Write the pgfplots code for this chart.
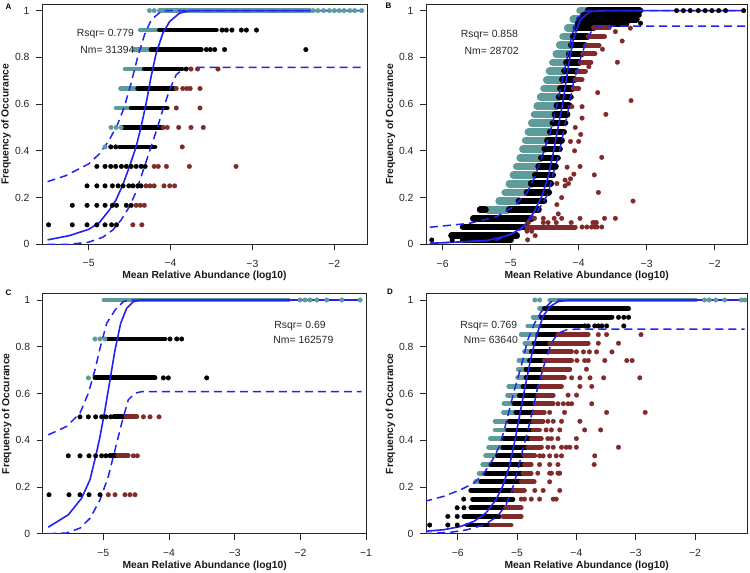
\documentclass[border=0pt]{standalone}
\usepackage{fontspec}
\setmainfont{Liberation Sans}
\usepackage{pgfplots}
\pgfplotsset{compat=1.18}
\definecolor{tealc}{HTML}{5E9C9B}
\definecolor{redc}{HTML}{812A2A}
\definecolor{bluec}{HTML}{2222F5}
\tikzset{note/.style={font=\fontsize{10.4}{12}\selectfont, text=black!85}}
\pgfplotsset{
 panel/.style={
   scale only axis, anchor=south west, height=240pt,
   ymin=0, ymax=1.027,
   ytick={0,0.2,0.4,0.6,0.8,1}, yticklabels={0,0.2,0.4,0.6,0.8,1},
   tick align=outside, xtick pos=bottom, ytick pos=left,
   major tick length=6pt,
   every tick/.style={black!85, line width=0.8pt},
   axis line style={black!85, line width=0.8pt},
   tick label style={font=\fontsize{10.4}{12}\selectfont, text=black!85},
   xticklabel style={yshift=-6pt},
   yticklabel style={xshift=-3pt},
   label style={font=\bfseries\fontsize{10.3}{12}\selectfont, text=black!90},
   xlabel={Mean Relative Abundance (log10)},
   ylabel={Frequency of Occurance},
   xlabel style={at={(axis description cs:0.5,-0.133)}, anchor=center},
   ylabel style={at={(axis description cs:-0.111,0.5)}, anchor=center},
 },
 seg/.style={no markers, line cap=round, line width=4.8pt, unbounded coords=jump, forget plot},
 pts/.style={only marks, mark=*, mark size=2.3pt, mark options={line width=0.3pt}, forget plot},
 fit/.style={no markers, line width=1.6pt, bluec, forget plot},
 ci/.style={no markers, line width=1.5pt, bluec, dash pattern=on 8pt off 5pt, forget plot},
}
\begin{document}
\begin{tikzpicture}
\path[use as bounding box] (0,0) rectangle (750pt,573pt);
\node[font=\bfseries\fontsize{8}{9}\selectfont] at (8.5pt,566.5pt) {A};
\node[font=\bfseries\fontsize{8}{9}\selectfont] at (388.5pt,567pt) {B};
\node[font=\bfseries\fontsize{8}{9}\selectfont] at (8.5pt,280pt) {C};
\node[font=\bfseries\fontsize{8}{9}\selectfont] at (390pt,281.5pt) {D};

%================ A =================
\begin{axis}[panel, at={(42pt,328.7pt)}, width=325pt,
  xmin=-5.57, xmax=-1.60, xtick={-5,-4,-3,-2}, xticklabels={−5,−4,−3,−2}]
\addplot[seg, tealc] coordinates {
(-4.665,0.5833)(-4.49,0.5833) (0,nan)
(-4.61,0.6667)(-4.41,0.6667) (0,nan)
(-4.555,0.75)(-4.33,0.75) (0,nan)
(-4.45,0.8333)(-4.245,0.8333) (0,nan)
(-4.37,0.9167)(-4.147,0.9167) (0,nan)
(-4.135,1)(-2.30,1)};
\addplot[pts, tealc] coordinates {
(-4.80,0.4167) (-4.727,0.5)(-4.665,0.5)(-4.604,0.5)
(-4.257,1)(-4.20,1)(-2.26,1)(-2.20,1)(-2.13,1)(-2.06,1)(-2.0,1)(-1.94,1)(-1.88,1)(-1.81,1)(-1.75,1)(-1.665,1)};
\addplot[seg, black] coordinates {
(-4.62,0.4167)(-4.19,0.4167) (0,nan)
(-4.58,0.5)(-4.11,0.5) (0,nan)
(-4.48,0.5833)(-4.04,0.5833) (0,nan)
(-4.40,0.6667)(-3.96,0.6667) (0,nan)
(-4.32,0.75)(-3.86,0.75) (0,nan)
(-4.237,0.8333)(-3.624,0.8333) (0,nan)
(-4.135,0.9167)(-3.44,0.9167)};
\addplot[pts, black] coordinates {
(-5.49,0.0833)(-5.20,0.0833)(-5.02,0.0833)(-4.90,0.0833)(-4.80,0.0833)(-4.72,0.0833)(-4.66,0.0833)
(-5.20,0.1667)(-5.02,0.1667)(-4.90,0.1667)(-4.80,0.1667)(-4.71,0.1667)(-4.66,0.1667)(-4.54,0.1667)(-4.48,0.1667)
(-5.02,0.25)(-4.90,0.25)(-4.80,0.25)(-4.71,0.25)(-4.64,0.25)(-4.58,0.25)(-4.51,0.25)(-4.46,0.25)(-4.40,0.25)(-4.36,0.25)
(-4.90,0.3333)(-4.80,0.3333)(-4.73,0.3333)(-4.67,0.3333)(-4.60,0.3333)(-4.54,0.3333)(-4.48,0.3333)(-4.42,0.3333)(-4.36,0.3333)(-4.31,0.3333)
(-4.73,0.4167)(-4.67,0.4167)
(-3.81,0.75)
(-3.563,0.8333)(-3.514,0.8333)(-3.46,0.8333)(-3.34,0.8333)(-2.347,0.8333)
(-3.37,0.9167)(-3.318,0.9167)(-3.25,0.9167)(-3.135,0.9167)(-3.073,0.9167)(-2.95,0.9167)};
\addplot[pts, redc] coordinates {
(-4.46,0.0833)(-4.35,0.0833)
(-4.42,0.1667)(-4.37,0.1667)(-4.32,0.1667)
(-4.30,0.25)(-4.25,0.25)(-4.20,0.25)(-4.08,0.25)(-4.01,0.25)(-3.95,0.25)
(-4.20,0.3333)(-4.15,0.3333)(-4.05,0.3333)(-3.77,0.3333)(-3.20,0.3333)
(-3.857,0.4167)
(-4.09,0.5)(-4.04,0.5)(-3.90,0.5)(-3.75,0.5)(-3.60,0.5)
(-3.93,0.5833)(-3.64,0.5833)
(-3.93,0.6667)(-3.85,0.6667)(-3.80,0.6667)(-3.76,0.6667)(-3.64,0.6667)
(-3.75,0.75)(-3.67,0.75)(-3.42,0.75)};
\addplot[fit] coordinates {
(-5.502,0.019)(-5.237,0.037)(-5.0,0.064)(-4.869,0.093)(-4.747,0.147)(-4.665,0.19)(-4.584,0.254)(-4.502,0.332)(-4.42,0.418)(-4.359,0.504)(-4.298,0.603)(-4.237,0.718)(-4.176,0.817)(-4.094,0.903)(-4.012,0.953)(-3.89,0.989)(-3.767,1.0)(-1.665,1.0)};
\addplot[ci] coordinates {
(-5.502,0.268)(-5.278,0.294)(-5.0,0.344)(-4.869,0.387)(-4.747,0.447)(-4.645,0.515)(-4.563,0.589)(-4.482,0.689)(-4.40,0.803)(-4.318,0.896)(-4.237,0.96)(-4.135,0.991)(-4.053,1.0)(-1.665,1.0)};
\addplot[ci] coordinates {
(-5.502,0)(-5.237,0)(-5.0,0.009)(-4.829,0.03)(-4.706,0.061)(-4.604,0.104)(-4.502,0.161)(-4.42,0.225)(-4.339,0.311)(-4.257,0.397)(-4.176,0.482)(-4.094,0.575)(-4.012,0.66)(-3.931,0.725)(-3.849,0.75)(-3.727,0.757)(-1.665,0.757)};
\node[note] at (axis cs:-4.796,0.899) {Rsqr= 0.779};
\node[note] at (axis cs:-4.77,0.832) {Nm= 31394};
\end{axis}

%================ B =================
\begin{axis}[panel, at={(426pt,328.7pt)}, width=321.3pt,
  xmin=-6.245, xmax=-1.52, xtick={-6,-5,-4,-3,-2}, xticklabels={−6,−5,−4,−3,−2}]
\addplot[seg, tealc, line width=7.6pt] coordinates {
(-5.33,0.148)(-5.04,0.148) (0,nan)
(-5.17,0.185)(-4.88,0.185) (0,nan)
(-5.08,0.222)(-4.76,0.222) (0,nan)
(-5.02,0.259)(-4.70,0.259) (0,nan)
(-4.96,0.296)(-4.64,0.296) (0,nan)
(-4.91,0.333)(-4.59,0.333) (0,nan)
(-4.86,0.370)(-4.55,0.370) (0,nan)
(-4.82,0.407)(-4.50,0.407) (0,nan)
(-4.78,0.444)(-4.46,0.444) (0,nan)
(-4.74,0.481)(-4.42,0.481) (0,nan)
(-4.69,0.519)(-4.38,0.519) (0,nan)
(-4.65,0.556)(-4.35,0.556) (0,nan)
(-4.61,0.593)(-4.32,0.593) (0,nan)
(-4.56,0.630)(-4.29,0.630) (0,nan)
(-4.51,0.667)(-4.27,0.667) (0,nan)
(-4.47,0.704)(-4.24,0.704) (0,nan)
(-4.43,0.741)(-4.21,0.741) (0,nan)
(-4.38,0.778)(-4.18,0.778) (0,nan)
(-4.33,0.815)(-4.14,0.815) (0,nan)
(-4.28,0.852)(-4.11,0.852) (0,nan)
(-4.23,0.889)(-4.08,0.889) (0,nan)
(-4.16,0.926)(-4.04,0.926) (0,nan)
(-4.08,0.963)(-3.99,0.963) (0,nan)
(-3.98,1)(-3.86,1)};
\addplot[seg, black, line width=6.6pt] coordinates {
(-5.70,0.0185)(-5.0,0.0185) (0,nan)
(-5.87,0.037)(-4.91,0.037) (0,nan)
(-5.70,0.074)(-4.77,0.074) (0,nan)
(-5.55,0.111)(-4.69,0.111) (0,nan)
(-5.45,0.148)(-5.37,0.148) (0,nan)
(-5.02,0.148)(-4.59,0.148) (0,nan)
(-4.88,0.185)(-4.51,0.185) (0,nan)
(-4.76,0.222)(-4.44,0.222) (0,nan)
(-4.70,0.259)(-4.41,0.259) (0,nan)
(-4.64,0.296)(-4.38,0.296) (0,nan)
(-4.59,0.333)(-4.34,0.333) (0,nan)
(-4.55,0.370)(-4.31,0.370) (0,nan)
(-4.50,0.407)(-4.28,0.407) (0,nan)
(-4.46,0.444)(-4.25,0.444) (0,nan)
(-4.42,0.481)(-4.22,0.481) (0,nan)
(-4.38,0.519)(-4.20,0.519) (0,nan)
(-4.35,0.556)(-4.17,0.556) (0,nan)
(-4.32,0.593)(-4.14,0.593) (0,nan)
(-4.29,0.630)(-4.12,0.630) (0,nan)
(-4.27,0.667)(-4.09,0.667) (0,nan)
(-4.24,0.704)(-4.06,0.704) (0,nan)
(-4.21,0.741)(-4.03,0.741) (0,nan)
(-4.18,0.778)(-3.99,0.778) (0,nan)
(-4.14,0.815)(-3.95,0.815) (0,nan)
(-4.11,0.852)(-3.91,0.852) (0,nan)
(-4.08,0.889)(-3.87,0.889) (0,nan)
(-4.04,0.926)(-3.78,0.926) (0,nan)
(-4.01,0.944)(-3.30,0.944) (0,nan)
(-3.99,0.963)(-3.15,0.963) (0,nan)
(-3.93,0.981)(-3.12,0.981) (0,nan)
(-3.86,1)(-3.10,1)};
\addplot[pts, black] coordinates {
(-6.16,0.0185)(-5.86,0.0185)(-3.09,0.946)
(-2.56,1)(-2.46,1)(-2.36,1)(-2.24,1)(-2.14,1)(-2.04,1)(-1.94,1)(-1.84,1)(-1.573,1)};
\addplot[seg, redc, line width=5pt] coordinates {
(-4.76,0.074)(-4.05,0.074) (0,nan)
(-3.78,0.926)(-3.55,0.926) (0,nan)
(-3.86,0.889)(-3.62,0.889) (0,nan)
(-3.90,0.852)(-3.70,0.852) (0,nan)
(-3.94,0.815)(-3.76,0.815) (0,nan)
(-3.98,0.778)(-3.82,0.778) (0,nan)
(-4.02,0.741)(-3.90,0.741) (0,nan)
(-4.05,0.704)(-3.95,0.704) (0,nan)
(-4.08,0.667)(-4.0,0.667)};
\addplot[pts, redc] coordinates {
(-3.46,0.91)(-3.24,0.925)(-3.36,0.87)(-3.65,0.835)(-3.43,0.779)(-3.85,0.76)(-3.72,0.649)(-3.23,0.615)
(-4.10,0.589)(-3.95,0.589)(-3.60,0.556)(-3.95,0.54)(-4.05,0.50)(-3.97,0.47)(-4.12,0.44)(-4.0,0.44)
(-3.66,0.372)(-4.06,0.40)(-3.98,0.333)(-4.07,0.30)(-3.77,0.297)(-4.12,0.28)(-4.15,0.26)(-3.71,0.222)
(-4.2,0.25)(-4.25,0.20)(-3.2,0.185)(-4.3,0.13)(-4.32,0.17)(-4.36,0.111)(-4.32,0.26)(-4.2,0.275)(-4.17,0.33)
(-3.95,0.074)(-3.88,0.074)(-3.81,0.074)(-3.76,0.074)(-3.73,0.074)(-3.66,0.074)
(-4.74,0.093)(-4.52,0.093)(-4.45,0.093)(-4.33,0.093)(-4.11,0.093)(-3.79,0.093)(-3.76,0.093)(-3.74,0.093)
(-4.65,0.111)(-4.52,0.111)(-4.25,0.111)(-3.98,0.111)(-3.62,0.111)(-3.46,0.111)
(-4.76,0.056)(-4.69,0.056)(-4.64,0.037)(-4.75,0.019)};
\addplot[fit] coordinates {
(-6.187,0.004)(-5.353,0.016)(-5.01,0.04)(-4.815,0.075)(-4.668,0.133)(-4.544,0.204)(-4.447,0.29)(-4.374,0.39)(-4.3,0.504)(-4.226,0.618)(-4.153,0.76)(-4.079,0.875)(-3.98,0.96)(-3.834,0.996)(-3.588,1.0)(-1.573,1.0)};
\addplot[ci] coordinates {
(-6.187,0.073)(-5.598,0.09)(-5.206,0.118)(-4.96,0.161)(-4.765,0.218)(-4.643,0.29)(-4.52,0.39)(-4.422,0.475)(-4.324,0.589)(-4.25,0.689)(-4.176,0.789)(-4.103,0.889)(-4.03,0.96)(-3.932,0.996)(-3.785,1.0)(-1.573,1.0)};
\addplot[ci] coordinates {
(-6.187,0.004)(-5.206,0.018)(-4.863,0.061)(-4.618,0.133)(-4.447,0.218)(-4.374,0.304)(-4.3,0.375)(-4.226,0.475)(-4.153,0.575)(-4.079,0.689)(-3.98,0.789)(-3.882,0.875)(-3.785,0.925)(-3.687,0.934)(-1.52,0.934)};
\node[note] at (axis cs:-5.313,0.896) {Rsqr= 0.858};
\node[note] at (axis cs:-5.278,0.829) {Nm= 28702};
\end{axis}

%================ C =================
\begin{axis}[panel, at={(42.7pt,39.3pt)}, width=324pt,
  xmin=-5.923, xmax=-0.99, xtick={-5,-4,-3,-2,-1}, xticklabels={−5,−4,−3,−2,−1}]
\addplot[seg, tealc] coordinates {(-4.99,1)(-2.183,1)};
\addplot[pts, tealc] coordinates {
(-5.228,0.6667)(-5.127,0.8333)(-5.05,0.8333)(-4.975,0.8333)
(-2.005,1)(-1.929,1)(-1.853,1)(-1.751,1)(-1.599,1)(-1.37,1)(-1.09,1)};
\addplot[seg, black] coordinates {
(-4.90,0.3333)(-4.81,0.3333) (0,nan)
(-4.84,0.5)(-4.67,0.5) (0,nan)
(-5.127,0.6667)(-4.213,0.6667) (0,nan)
(-4.94,0.8333)(-4.06,0.8333)};
\addplot[pts, black] coordinates {
(-5.827,0.1667)(-5.523,0.1667)(-5.355,0.1667)(-5.218,0.1667)(-5.051,0.1667)
(-5.533,0.3333)(-5.355,0.3333)(-5.218,0.3333)(-5.117,0.3333)(-5.025,0.3333)(-4.96,0.3333)
(-5.355,0.5)(-5.228,0.5)(-5.117,0.5)(-5.025,0.5)(-4.959,0.5)(-4.888,0.5)
(-4.086,0.6667)(-4.01,0.6667)(-3.426,0.6667)
(-3.985,0.8333)(-3.883,0.8333)(-3.807,0.8333)};
\addplot[seg, redc] coordinates {
(-4.78,0.3333)(-4.62,0.3333) (0,nan)
(-4.655,0.5)(-4.49,0.5)};
\addplot[pts, redc] coordinates {
(-4.924,0.1667)(-4.822,0.1667)(-4.67,0.1667)(-4.594,0.1667)(-4.518,0.1667)
(-4.543,0.3333)(-4.482,0.3333)
(-4.39,0.5)(-4.289,0.5)(-4.152,0.5)};
\addplot[fit] coordinates {
(-5.838,0.028)(-5.533,0.081)(-5.33,0.152)(-5.203,0.231)(-5.117,0.33)(-5.05,0.416)(-4.975,0.53)(-4.898,0.658)(-4.822,0.786)(-4.736,0.9)(-4.645,0.964)(-4.543,0.993)(-4.44,1.0)(-1.066,1.0)};
\addplot[ci] coordinates {
(-5.838,0.423)(-5.558,0.459)(-5.355,0.516)(-5.228,0.601)(-5.127,0.701)(-5.051,0.793)(-4.949,0.9)(-4.822,0.957)(-4.695,0.993)(-4.62,1.0)(-1.066,1.0)};
\addplot[ci] coordinates {
(-5.838,0)(-5.558,0.003)(-5.355,0.024)(-5.2,0.067)(-5.05,0.145)(-4.924,0.245)(-4.822,0.359)(-4.72,0.473)(-4.62,0.573)(-4.518,0.601)(-4.416,0.608)(-1.066,0.608)};
\node[note] at (axis cs:-2.005,0.89) {Rsqr= 0.69};
\node[note] at (axis cs:-1.954,0.829) {Nm= 162579};
\end{axis}

%================ D =================
\begin{axis}[panel, at={(426pt,39.3pt)}, width=321.3pt,
  xmin=-6.535, xmax=-1.118, xtick={-6,-5,-4,-3,-2}, xticklabels={−6,−5,−4,−3,−2}]
\addplot[seg, tealc] coordinates {
(-4.45,1)(-1.99,1) (0,nan)
(-4.62,0.963)(-4.54,0.963) (0,nan)
(-4.73,0.926)(-4.59,0.926) (0,nan)
(-4.82,0.889)(-4.59,0.889) (0,nan)
(-4.93,0.852)(-4.65,0.852) (0,nan)
(-4.87,0.815)(-4.71,0.815) (0,nan)
(-4.875,0.778)(-4.76,0.778) (0,nan)
(-4.97,0.741)(-4.79,0.741) (0,nan)
(-4.98,0.704)(-4.85,0.704) (0,nan)
(-4.99,0.667)(-4.85,0.667) (0,nan)
(-5.14,0.630)(-4.90,0.630) (0,nan)
(-5.16,0.593)(-4.96,0.593) (0,nan)
(-5.22,0.556)(-5.05,0.556) (0,nan)
(-5.23,0.519)(-5.02,0.519) (0,nan)
(-5.37,0.481)(-5.13,0.481) (0,nan)
(-5.37,0.444)(-5.16,0.444) (0,nan)
(-5.45,0.407)(-5.22,0.407) (0,nan)
(-5.48,0.370)(-5.24,0.370) (0,nan)
(-5.53,0.333)(-5.33,0.333) (0,nan)
(-5.58,0.296)(-5.44,0.296) (0,nan)
(-5.64,0.259)(-5.53,0.259) (0,nan)
(-5.70,0.222)(-5.61,0.222)};
\addplot[pts, tealc] coordinates {
(-4.70,1)(-4.62,1)(-1.84,1)(-1.76,1)(-1.65,1)(-1.50,1)(-1.22,1)(-1.16,1)};
\addplot[seg, black] coordinates {
(-4.54,0.963)(-3.12,0.963) (0,nan)
(-4.59,0.926)(-3.43,0.926) (0,nan)
(-4.59,0.889)(-3.91,0.889) (0,nan)
(-4.65,0.852)(-4.31,0.852) (0,nan)
(-4.71,0.815)(-4.45,0.815) (0,nan)
(-4.76,0.778)(-4.45,0.778) (0,nan)
(-4.79,0.741)(-4.54,0.741) (0,nan)
(-4.85,0.704)(-4.56,0.704) (0,nan)
(-4.85,0.667)(-4.56,0.667) (0,nan)
(-4.90,0.630)(-4.62,0.630) (0,nan)
(-4.96,0.593)(-4.65,0.593) (0,nan)
(-5.05,0.556)(-4.70,0.556) (0,nan)
(-5.02,0.519)(-4.70,0.519) (0,nan)
(-5.13,0.481)(-4.73,0.481) (0,nan)
(-5.16,0.444)(-4.76,0.444) (0,nan)
(-5.22,0.407)(-4.79,0.407) (0,nan)
(-5.24,0.370)(-4.82,0.370) (0,nan)
(-5.33,0.333)(-4.875,0.333) (0,nan)
(-5.44,0.296)(-4.875,0.296) (0,nan)
(-5.53,0.259)(-4.90,0.259) (0,nan)
(-5.61,0.222)(-4.93,0.222) (0,nan)
(-5.78,0.185)(-5.045,0.185) (0,nan)
(-5.75,0.148)(-5.07,0.148) (0,nan)
(-5.78,0.111)(-5.22,0.111) (0,nan)
(-5.895,0.074)(-5.30,0.074) (0,nan)
(-5.84,0.037)(-5.47,0.037)};
\addplot[pts, black] coordinates {
(-5.90,0.148)(-6.01,0.111)(-5.895,0.111)(-6.167,0.074)(-6.008,0.074)(-6.473,0.037)(-6.167,0.037)(-6.008,0.037)
(-3.40,0.926)(-3.29,0.926)(-3.20,0.926)(-3.12,0.926)
(-3.86,0.889)(-3.80,0.889)(-3.69,0.889)(-3.63,0.889)(-3.57,0.889)(-3.49,0.889)(-3.20,0.889)};
\addplot[seg, redc] coordinates {
(-4.31,0.852)(-3.80,0.852) (0,nan)
(-4.45,0.815)(-3.80,0.815) (0,nan)
(-4.45,0.778)(-4.08,0.778) (0,nan)
(-4.54,0.741)(-4.08,0.741) (0,nan)
(-4.56,0.704)(-4.11,0.704) (0,nan)
(-4.56,0.667)(-4.20,0.667) (0,nan)
(-4.62,0.630)(-4.25,0.630) (0,nan)
(-4.65,0.593)(-4.39,0.593) (0,nan)
(-4.70,0.556)(-4.39,0.556) (0,nan)
(-4.70,0.519)(-4.54,0.519) (0,nan)
(-4.73,0.481)(-4.56,0.481) (0,nan)
(-4.73,0.444)(-4.62,0.444) (0,nan)
(-4.76,0.407)(-4.59,0.407) (0,nan)
(-4.82,0.370)(-4.62,0.370) (0,nan)
(-4.875,0.333)(-4.70,0.333) (0,nan)
(-4.875,0.296)(-4.76,0.296) (0,nan)
(-4.90,0.259)(-4.76,0.259) (0,nan)
(-4.93,0.222)(-4.71,0.222) (0,nan)
(-5.045,0.185)(-4.875,0.185) (0,nan)
(-5.19,0.111)(-4.93,0.111) (0,nan)
(-5.24,0.074)(-4.93,0.074) (0,nan)
(-5.44,0.037)(-5.10,0.037)};
\addplot[pts, redc] coordinates {
(-3.63,0.852)(-3.49,0.852)(-2.91,0.852)
(-3.63,0.815)(-3.29,0.815)
(-4.0,0.778)(-3.88,0.778)(-3.78,0.778)(-3.66,0.778)(-3.40,0.778)
(-3.99,0.741)(-3.86,0.741)(-3.80,0.741)(-3.52,0.741)(-3.15,0.741)(-3.06,0.741)
(-3.83,0.704)
(-4.08,0.667)(-3.94,0.667)(-3.77,0.667)(-3.54,0.667)(-2.93,0.667)
(-3.94,0.630)(-3.74,0.630)
(-4.14,0.593)(-3.997,0.593)
(-4.31,0.556)(-4.22,0.556)(-4.14,0.556)(-4.08,0.556)(-3.74,0.556)
(-4.45,0.519)(-4.20,0.519)(-3.49,0.519)(-2.84,0.519)
(-4.48,0.481)(-4.39,0.481)(-4.25,0.481)(-3.94,0.481)
(-4.51,0.444)(-4.42,0.444)(-4.28,0.444)(-3.86,0.444)(-3.59,0.444)
(-4.48,0.407)(-4.42,0.407)(-4.31,0.407)(-4.0,0.407)
(-4.59,0.370)(-4.48,0.370)(-4.39,0.370)(-4.25,0.370)(-4.17,0.370)(-4.11,0.370)(-4.0,0.370)(-3.29,0.370)
(-4.62,0.333)(-4.56,0.333)(-4.45,0.333)(-4.34,0.333)(-4.25,0.333)(-3.69,0.333)
(-4.62,0.296)(-4.45,0.296)(-4.31,0.296)(-3.70,0.296)
(-4.65,0.259)(-4.45,0.259)(-4.42,0.259)(-4.31,0.259)(-4.28,0.259)
(-4.45,0.222)
(-4.70,0.185)(-4.56,0.185)(-4.28,0.185)
(-4.93,0.148)(-4.875,0.148)(-4.76,0.148)(-4.62,0.148)(-4.39,0.148)(-4.34,0.148)};
\addplot[fit] coordinates {
(-6.564,0.01)(-6.235,0.017)(-5.952,0.031)(-5.725,0.053)(-5.527,0.088)(-5.357,0.145)(-5.244,0.202)(-5.13,0.288)(-5.045,0.387)(-4.96,0.501)(-4.875,0.615)(-4.773,0.744)(-4.677,0.843)(-4.564,0.929)(-4.45,0.971)(-4.31,0.993)(-4.139,1.0)(-1.164,1.0)};
\addplot[ci] coordinates {
(-6.564,0.138)(-6.235,0.16)(-5.952,0.188)(-5.725,0.217)(-5.555,0.259)(-5.414,0.316)(-5.30,0.373)(-5.215,0.444)(-5.13,0.53)(-5.045,0.615)(-4.932,0.715)(-4.819,0.829)(-4.705,0.9)(-4.592,0.95)(-4.422,0.993)(-4.28,1.0)(-1.164,1.0)};
\addplot[ci] coordinates {
(-6.564,0)(-6.12,0.006)(-5.84,0.017)(-5.555,0.038)(-5.33,0.074)(-5.187,0.124)(-5.102,0.174)(-5.017,0.245)(-4.932,0.33)(-4.83,0.43)(-4.734,0.53)(-4.649,0.63)(-4.535,0.729)(-4.422,0.815)(-4.31,0.858)(-4.167,0.872)(-4.025,0.875)(-1.164,0.875)};
\node[note] at (axis cs:-5.476,0.89) {Rsqr= 0.769};
\node[note] at (axis cs:-5.442,0.829) {Nm= 63640};
\end{axis}
\end{tikzpicture}
\end{document}
